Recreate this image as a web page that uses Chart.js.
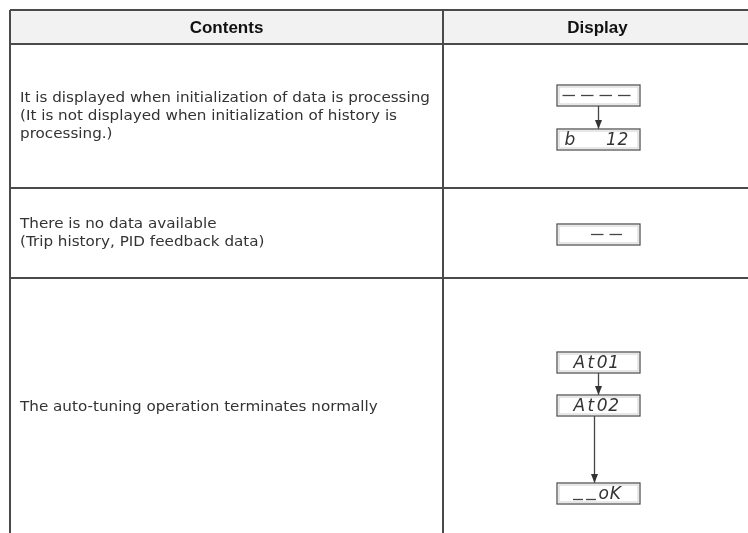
<!DOCTYPE html>
<html>
<head>
<meta charset="utf-8">
<script src="https://cdn.jsdelivr.net/npm/chart.js@4"></script>
<style>
  html, body { margin: 0; padding: 0; background: #fff; }
  #wrap { width: 748px; height: 533px; position: relative; }
</style>
</head>
<body>
<div id="wrap"><canvas id="tabela"></canvas></div>
<script>
// table data
const headers = ["Contents", "Display"];
const contents = [
  ["It is displayed when initialization of data is processing",
   "(It is not displayed when initialization of history is",
   "processing.)"],
  ["There is no data available",
   "(Trip history, PID feedback data)"],
  ["The auto-tuning operation terminates normally"]
];
// what the LCD shows, one list per row (arrows go from one to the next)
const displays = [
  ["----", "b   12"],
  ["  --"],
  ["At01", "At02", "__oK"]
];

// layout (in page units, converted by the chart scales)
const colEdges = [10, 443, 752];
const rowEdges = [10, 44, 188, 278, 536];
const boxTops = [[85, 129], [224], [352, 395, 483]];
const boxLeft = 557, boxRight = 640, boxH = 21;
const textWidth = 410; // width of the longest line in the reference

// grid lines as line datasets
let linhas = [];
rowEdges.forEach(y => {
  linhas.push({ data: [{ x: colEdges[0], y: y }, { x: colEdges[2], y: y }] });
});
colEdges.forEach(x => {
  linhas.push({ data: [{ x: x, y: rowEdges[0] }, { x: x, y: rowEdges[rowEdges.length - 1] }] });
});
linhas = linhas.map(d => ({
  data: d.data,
  showLine: true,
  pointRadius: 0,
  borderColor: "#4a4a4a",
  borderWidth: 2,
  clip: false
}));

const tabelaPlugin = {
  id: "tabela",
  beforeDatasetsDraw(chart) {
    const { ctx, scales } = chart;
    const X = v => scales.x.getPixelForValue(v);
    const Y = v => scales.y.getPixelForValue(v);
    ctx.save();
    ctx.fillStyle = "#f2f2f2";
    ctx.fillRect(X(colEdges[0]), Y(rowEdges[0]), X(colEdges[2]) - X(colEdges[0]), Y(rowEdges[1]) - Y(rowEdges[0]));
    ctx.restore();
  },
  afterDatasetsDraw(chart) {
    const { ctx, scales } = chart;
    const X = v => scales.x.getPixelForValue(v);
    const Y = v => scales.y.getPixelForValue(v);
    ctx.save();

    // header
    ctx.fillStyle = "#111";
    ctx.font = 'bold 17px "Liberation Sans Narrow", "Liberation Sans", sans-serif';
    ctx.textAlign = "center";
    ctx.textBaseline = "middle";
    headers.forEach((h, i) => {
      ctx.fillText(h, (X(colEdges[i]) + X(colEdges[i + 1])) / 2, (Y(rowEdges[0]) + Y(rowEdges[1])) / 2 + 1);
    });

    // contents text, stretched a bit to the reference width
    ctx.fillStyle = "#333";
    ctx.font = '14px "DejaVu Sans", sans-serif';
    ctx.textAlign = "left";
    const escala = textWidth / ctx.measureText(contents[0][0]).width;
    contents.forEach((lines, r) => {
      const mid = (Y(rowEdges[r + 1]) + Y(rowEdges[r + 2])) / 2;
      const step = 18;
      lines.forEach((t, k) => {
        ctx.save();
        ctx.translate(X(20), mid + (k - (lines.length - 1) / 2) * step);
        ctx.scale(escala, 1);
        ctx.fillText(t, 0, 0);
        ctx.restore();
      });
    });

    // LCD boxes
    displays.forEach((lista, r) => {
      lista.forEach((txt, k) => {
        const top = Y(boxTops[r][k]);
        const l = X(boxLeft), rr = X(boxRight);
        ctx.strokeStyle = "#d0d0d0";
        ctx.lineWidth = 1;
        ctx.strokeRect(l + 2, top + 2, rr - l - 4, boxH - 4);
        ctx.strokeStyle = "#555";
        ctx.lineWidth = 1.3;
        ctx.strokeRect(l, top, rr - l, boxH);
        drawLcd(ctx, txt, (l + rr) / 2 - 2, top + boxH / 2);

        // arrow to next box
        if (k < lista.length - 1) {
          const ax = (l + rr) / 2 - (k === 1 ? 4 : 0);
          const y0 = top + boxH, y1 = Y(boxTops[r][k + 1]);
          ctx.strokeStyle = "#444";
          ctx.lineWidth = 1.3;
          ctx.beginPath();
          ctx.moveTo(ax, y0);
          ctx.lineTo(ax, y1);
          ctx.stroke();
          ctx.fillStyle = "#333";
          ctx.beginPath();
          ctx.moveTo(ax, y1);
          ctx.lineTo(ax - 3.5, y1 - 9);
          ctx.lineTo(ax + 3.5, y1 - 9);
          ctx.closePath();
          ctx.fill();
        }
      });
    });
    ctx.restore();
  }
};

function advance(c) {
  if (c === "-") return 18.5;
  if (c === "_") return 13;
  if (c === " ") return 10;
  return 11.5;
}

function drawLcd(ctx, txt, cx, cy) {
  let total = 0;
  for (const c of txt) total += advance(c);
  let x = cx - total / 2;
  ctx.fillStyle = "#333";
  ctx.strokeStyle = "#444";
  ctx.lineWidth = 1.3;
  ctx.font = 'italic 17px "DejaVu Sans", sans-serif';
  ctx.textAlign = "center";
  ctx.textBaseline = "middle";
  for (const c of txt) {
    const w = advance(c);
    if (c === "-") {
      ctx.beginPath();
      ctx.moveTo(x + 3, cy);
      ctx.lineTo(x + w - 3, cy);
      ctx.stroke();
    } else if (c === "_") {
      ctx.beginPath();
      ctx.moveTo(x + 1, cy + 6);
      ctx.lineTo(x + w - 2, cy + 6);
      ctx.stroke();
    } else if (c !== " ") {
      ctx.fillText(c, x + w / 2, cy + 1);
    }
    x += w;
  }
}

new Chart(document.getElementById("tabela"), {
  type: "scatter",
  data: { datasets: linhas },
  options: {
    responsive: true,
    maintainAspectRatio: false,
    animation: false,
    events: [],
    layout: { padding: 0 },
    plugins: { legend: { display: false }, tooltip: { enabled: false } },
    scales: {
      x: { type: "linear", min: 0, max: 748, display: false },
      y: { type: "linear", min: 0, max: 533, reverse: true, display: false }
    }
  },
  plugins: [tabelaPlugin]
});
</script>
</body>
</html>
